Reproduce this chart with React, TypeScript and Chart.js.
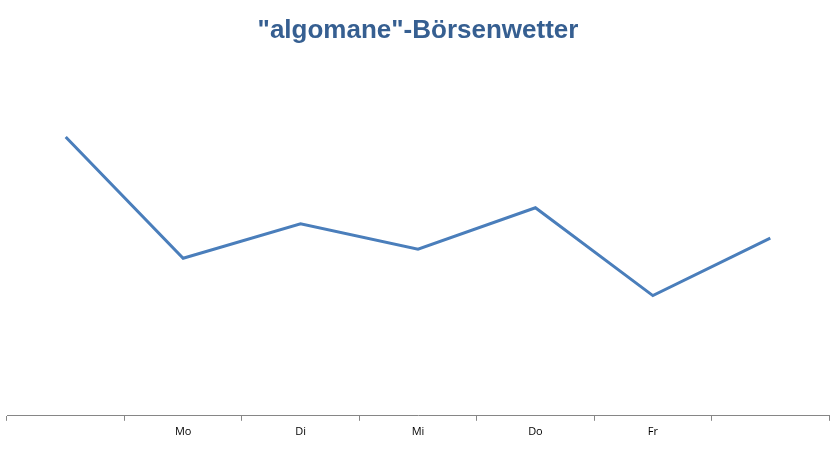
import { useEffect, useRef } from "react";
import { Chart, registerables, type ChartConfiguration } from "chart.js";

Chart.register(...registerables);

const categories = ["", "Mo", "Di", "Mi", "Do", "Fr", ""];
const weather = [276, 156, 190, 165, 206, 119, 176];
const yMin = 0;
const yMax = 360;

export default function App() {
  const canvasRef = useRef<HTMLCanvasElement | null>(null);

  useEffect(() => {
    document.body.style.margin = "0";
    const canvas = canvasRef.current;
    if (!canvas) return;

    const config: ChartConfiguration<"line"> = {
      type: "line",
      data: {
        labels: categories,
        datasets: [
          {
            label: "Börsenwetter",
            data: weather,
            borderColor: "#4A7EBB",
            borderWidth: 3,
            pointRadius: 0,
            tension: 0,
            fill: false,
          },
        ],
      },
      options: {
        responsive: true,
        maintainAspectRatio: false,
        animation: false,
        layout: { padding: { left: 7, right: 8, top: 6, bottom: 12 } },
        plugins: {
          legend: { display: false },
          tooltip: { enabled: false },
          title: {
            display: true,
            text: '"algomane"-Börsenwetter',
            color: "#365F91",
            font: { family: "Liberation Sans, Arial, sans-serif", size: 26, weight: "bold" },
            padding: { top: 9, bottom: 6 },
          },
        },
        scales: {
          x: {
            offset: true,
            grid: {
              offset: true,
              drawOnChartArea: false,
              drawTicks: true,
              tickLength: 5,
              color: "#868686",
            },
            border: { display: true, color: "#868686", width: 1 },
            ticks: {
              color: "#000000",
              padding: 4,
              font: { family: "Open Sans, Liberation Sans, sans-serif", size: 11 },
              maxRotation: 0,
              autoSkip: false,
            },
          },
          y: {
            display: false,
            min: yMin,
            max: yMax,
          },
        },
      },
    };

    const chart = new Chart(canvas, config);
    return () => chart.destroy();
  }, []);

  return (
    <div style={{ width: 837, height: 454, position: "relative" }}>
      <canvas ref={canvasRef} />
    </div>
  );
}
